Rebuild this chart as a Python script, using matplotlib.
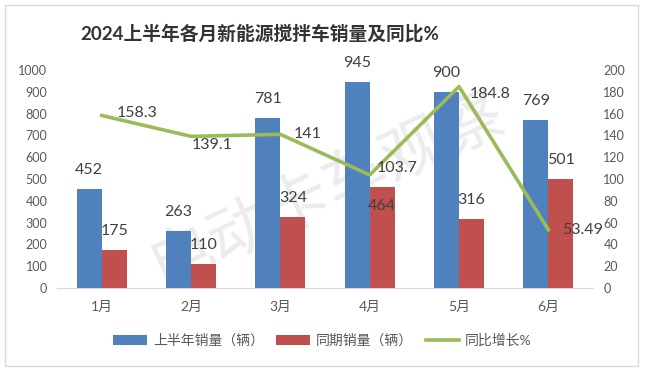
import matplotlib.pyplot as plt
from matplotlib.patches import Rectangle

plt.rcParams['font.family'] = ['Lato', 'Noto Sans CJK SC', 'DejaVu Sans']

# ------------ 数据 ------------
months = ["1月", "2月", "3月", "4月", "5月", "6月"]
sales_2024 = [452, 263, 781, 945, 900, 769]
sales_last = [175, 110, 324, 464, 316, 501]
yoy_pct = [158.3, 139.1, 141, 103.7, 184.8, 53.49]
yoy_text = ["158.3", "139.1", "141", "103.7", "184.8", "53.49"]

# 标签偏移（像素，相对数据点）
red_dy = [19, 19, 19, -19, 19, 19]
line_off = [(15, 2), (1, -9), (13, 0), (7, 7), (11, -7), (14, 0)]

BLUE = "#4F81BD"
RED = "#C0504D"
GREEN = "#9BBB59"
TXT = "#404040"
TICK = "#595959"

W, H = 645, 371
fig = plt.figure(figsize=(W / 100, H / 100), dpi=100)
ax = fig.add_axes([57 / W, 1 - 288 / H, 536 / W, 218 / H])
ax.set_facecolor("none")
ax2 = ax.twinx()

x = list(range(len(months)))
bw = 0.28
px2pt = 0.72

b1 = ax.bar([i - bw / 2 for i in x], sales_2024, bw, color=BLUE, zorder=2, label="上半年销量（辆）")
b2 = ax.bar([i + bw / 2 for i in x], sales_last, bw, color=RED, zorder=2, label="同期销量（辆）")
ln, = ax2.plot(x, yoy_pct, color=GREEN, lw=2.6, zorder=3, label="同比增长%")

for i, v in enumerate(sales_2024):
    ax.annotate(str(v), (i - bw / 2, v), xytext=(0, 19 * px2pt), textcoords="offset points",
                ha="center", va="center", fontsize=11.5, color=TXT)
for i, v in enumerate(sales_last):
    ax.annotate(str(v), (i + bw / 2, v), xytext=(0, red_dy[i] * px2pt), textcoords="offset points",
                ha="center", va="center", fontsize=11.5, color=TXT, zorder=5)
for i, v in enumerate(yoy_pct):
    dx, dy = line_off[i]
    ax2.annotate(yoy_text[i], (i, v), xytext=(dx * px2pt, dy * px2pt), textcoords="offset points",
                 ha="left", va="center", fontsize=11.5, color=TXT, zorder=5)

ax.set_xlim(-0.5, 5.5)
ax.set_ylim(0, 1000)
ax2.set_ylim(0, 200)
ax.set_yticks(range(0, 1001, 100))
ax2.set_yticks(range(0, 201, 20))
ax.set_xticks(x)
ax.set_xticklabels(months)

for a in (ax, ax2):
    for s in ("top", "left", "right"):
        a.spines[s].set_visible(False)
    a.spines["bottom"].set_color("#d9d9d9")
ax2.spines["bottom"].set_visible(False)

ax.tick_params(axis="y", length=0, pad=7, labelsize=9, labelcolor=TICK)
ax2.tick_params(axis="y", length=0, pad=7.5, labelsize=9, labelcolor=TICK)
ax.tick_params(axis="x", length=0, pad=9, labelsize=10, labelcolor=TICK)

# 标题
fig.text(260 / W, 1 - 33 / H, "2024上半年各月新能源搅拌车销量及同比%", ha="center", va="center",
         fontsize=13.5, fontweight="bold", color="#333333")

# 水印
ax.text(328 / W, 1 - 188 / H, "电动卡车观察", transform=fig.transFigure, ha="center", va="center",
        rotation=25, fontsize=46, color="#ececec", zorder=0.5,
        family=["Noto Sans CJK SC"])

# 图例
fig.legend(handles=[b1, b2, ln], loc="center", bbox_to_anchor=(0.5, 1 - 340 / H), ncol=3,
           frameon=False, fontsize=10, handlelength=2.4, handleheight=0.8,
           handletextpad=0.45, columnspacing=0.9, labelcolor=TICK)

# 外框
fig.patches.append(Rectangle((5 / W, 5 / H), 633 / W, 361 / H, transform=fig.transFigure,
                             fill=False, edgecolor="#d9d9d9", lw=1))

fig.savefig("out.png", dpi=100)
